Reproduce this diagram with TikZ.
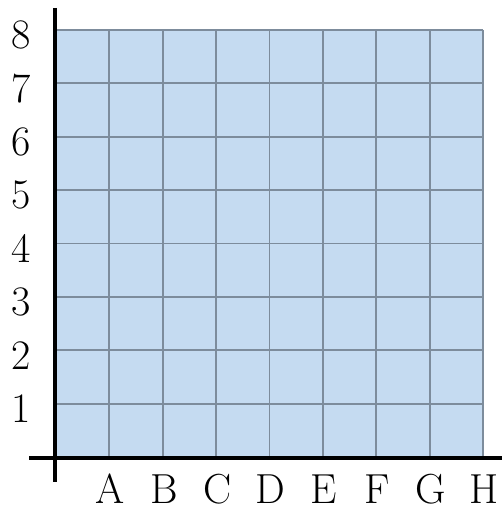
\documentclass[tikz,border=0pt]{standalone}
\begin{document}
\begin{tikzpicture}[x=1pt,y=-1pt,
  gridline/.style={draw=gridgray,line width=1.8pt},
  axisline/.style={draw=black,line width=4.5pt},
  lbl/.style={font=\fontsize{42}{42}\selectfont,inner sep=0pt,anchor=center}]
\definecolor{cellblue}{HTML}{C5DBF1}
\definecolor{gridgray}{HTML}{7D8C9C}
\useasboundingbox (0,0) rectangle (502,511);
\fill[cellblue] (56,30) rectangle (483,457);
\foreach \i in {0,...,8}{
  \draw[gridline] ({56+\i*53.375},30) -- ({56+\i*53.375},457);
  \draw[gridline] (56,{30+\i*53.375}) -- (483,{30+\i*53.375});
}
\coordinate (ytop) at (55,8);
\coordinate (ybot) at (55,482);
\coordinate (xl) at (29,458);
\coordinate (xr) at (502,458);
\draw[axisline] (ytop) -- (ybot);
\draw[axisline] (xl) -- (xr);
\foreach \n in {1,...,8}{
  \node[lbl] (n\n) at (21,{457-\n*53.375+5}) {\n};
}
\foreach \L [count=\k] in {A,B,C,D,E,F,G,H}{
  \node[lbl] (l\k) at ({56+\k*53.375+1},489) {\L};
}
\end{tikzpicture}
\end{document}
